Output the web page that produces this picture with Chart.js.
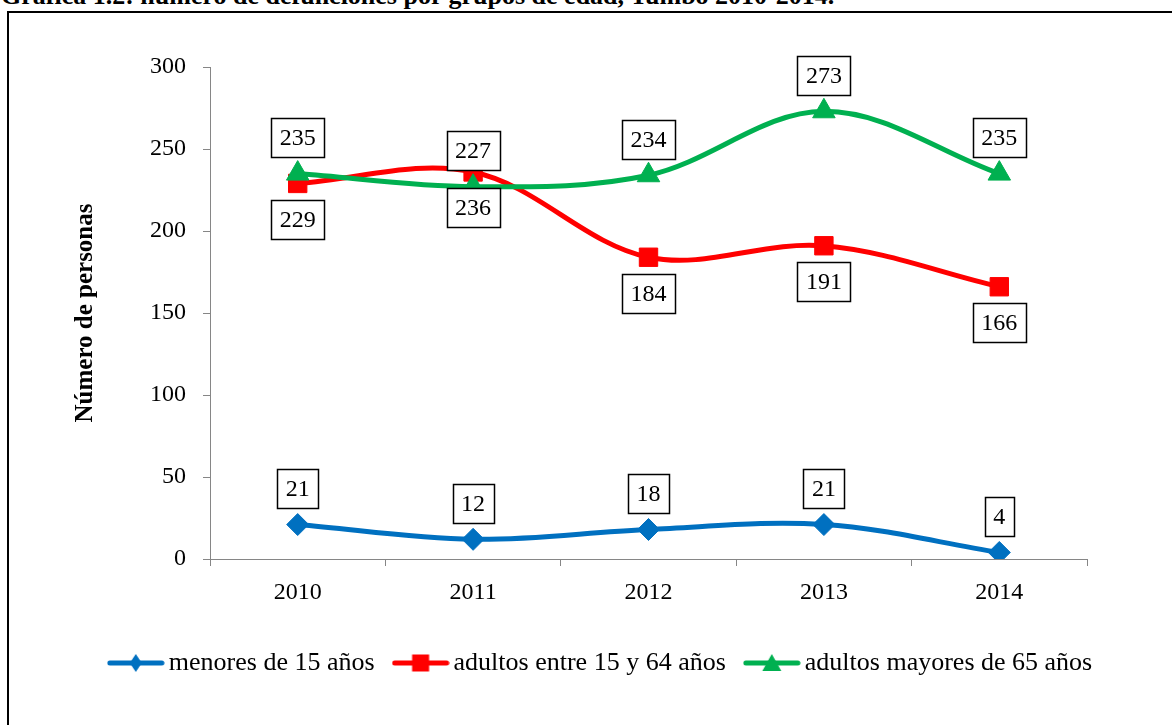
<!DOCTYPE html>
<html lang="es">
<head>
<meta charset="utf-8">
<title>Defunciones por grupos de edad</title>
<script src="https://cdn.jsdelivr.net/npm/chart.js@4.4.1/dist/chart.umd.min.js"></script>
<style>
  html, body { margin: 0; padding: 0; background: #fff; overflow: hidden; }
  body { width: 1172px; height: 725px; position: relative; }
  .titulo {
    position: absolute; left: 1px; top: -17px;
    font: bold 26px/26px "Liberation Serif", "Times New Roman", serif;
    color: #000; white-space: nowrap;
  }
  .marco {
    position: absolute; left: 7px; top: 11px; width: 1200px; height: 800px;
    border: 2px solid #000; box-sizing: border-box;
  }
  .grafico { position: absolute; left: 0; top: 0; width: 1172px; height: 725px; }
</style>
</head>
<body>
<div class="titulo">Gráfica 1.2: número de defunciones por grupos de edad, Tumbo 2010-2014.</div>
<div class="marco"></div>
<div class="grafico"><canvas id="lineChart"></canvas></div>

<script>
// Datos de la gráfica
const YEARS = ['2010', '2011', '2012', '2013', '2014'];
const MENORES_15 = [21, 12, 18, 21, 4];
const ADULTOS_15_64 = [229, 236, 184, 191, 166];
const MAYORES_65 = [235, 227, 234, 273, 235];
const Y_TICKS = [0, 50, 100, 150, 200, 250, 300];

const SERIE_NAMES = ['menores de 15 años', 'adultos entre 15 y 64 años', 'adultos mayores de 65 años'];
const COLORS = ['#0070C0', '#FF0000', '#00B050'];
const FONT = '"Liberation Serif", "Times New Roman", serif';

/**
 * Dibuja el icono de leyenda: línea con el marcador en el centro
 */
function legendIcon(color, shape) {
    const c = document.createElement('canvas');
    c.width = 58;
    c.height = 22;
    const g = c.getContext('2d');
    g.strokeStyle = color;
    g.fillStyle = color;
    g.lineWidth = 5;
    g.lineCap = 'round';
    g.beginPath();
    g.moveTo(3, 11);
    g.lineTo(55, 11);
    g.stroke();
    g.beginPath();
    if (shape === 'diamond') {
        g.moveTo(29, 2); g.lineTo(35, 11); g.lineTo(29, 20); g.lineTo(23, 11);
    } else if (shape === 'square') {
        g.rect(20.5, 2.5, 17, 17);
    } else {
        g.moveTo(29, 2); g.lineTo(38.5, 19); g.lineTo(19.5, 19);
    }
    g.closePath();
    g.fill();
    return c;
}

const ICONS = [
    legendIcon(COLORS[0], 'diamond'),
    legendIcon(COLORS[1], 'square'),
    legendIcon(COLORS[2], 'triangle')
];

// Etiquetas de datos en cajas con borde negro
const boxLabels = {
    id: 'boxLabels',
    afterDatasetsDraw(chart) {
        const ctx = chart.ctx;
        ctx.save();
        ctx.font = '24px ' + FONT;
        ctx.textAlign = 'center';
        ctx.textBaseline = 'middle';
        chart.data.datasets.forEach((ds, i) => {
            const meta = chart.getDatasetMeta(i);
            const dir = ds.labelSide === 'below' ? 1 : -1;
            meta.data.forEach((pt, j) => {
                const txt = String(ds.data[j]);
                const w = Math.round(ctx.measureText(txt).width + 17);
                const h = 39;
                const x = Math.round(pt.x - w / 2) + 0.5;
                const y = Math.round(pt.y + dir * 36 - h / 2) + 0.5;
                ctx.fillStyle = '#ffffff';
                ctx.fillRect(x, y, w, h);
                ctx.lineWidth = 1.5;
                ctx.strokeStyle = '#000000';
                ctx.strokeRect(x, y, w, h);
                ctx.fillStyle = '#000000';
                ctx.fillText(txt, pt.x, y + h / 2 + 1);
            });
        });
        ctx.restore();
    }
};

const ctx = document.getElementById('lineChart').getContext('2d');

new Chart(ctx, {
    type: 'line',
    data: {
        labels: YEARS,
        datasets: [
            { label: SERIE_NAMES[0], data: MENORES_15, borderColor: COLORS[0], backgroundColor: COLORS[0],
              pointStyle: 'rectRot', pointRadius: 11, labelSide: 'above', order: 2 },
            { label: SERIE_NAMES[1], data: ADULTOS_15_64, borderColor: COLORS[1], backgroundColor: COLORS[1],
              pointStyle: 'rect', pointRadius: 13, labelSide: 'below', order: 1 },
            { label: SERIE_NAMES[2], data: MAYORES_65, borderColor: COLORS[2], backgroundColor: COLORS[2],
              pointStyle: 'triangle', pointRadius: 13, labelSide: 'above', order: 0 }
        ]
    },
    options: {
        responsive: true,
        maintainAspectRatio: false,
        animation: false,
        layout: { padding: { top: 67, right: 0, bottom: 39, left: 36 } },
        elements: {
            line: { borderWidth: 5, tension: 0.35, fill: false },
            point: { borderWidth: 1, hoverRadius: 12 }
        },
        plugins: {
            tooltip: { enabled: false },
            legend: {
                position: 'bottom',
                labels: {
                    usePointStyle: true,
                    pointStyleWidth: 40,
                    padding: 26,
                    color: '#000',
                    font: { family: FONT, size: 26 },
                    generateLabels: chart => chart.data.datasets.map((ds, i) => ({
                        text: ds.label,
                        pointStyle: ICONS[i],
                        fillStyle: COLORS[i],
                        strokeStyle: 'transparent',
                        lineWidth: 0,
                        fontColor: '#000',
                        hidden: false,
                        datasetIndex: i
                    }))
                }
            }
        },
        scales: {
            x: {
                offset: true,
                afterFit: s => { s.height = 65; },
                grid: { offset: true, drawOnChartArea: false, drawTicks: true, tickLength: 7, color: '#868686' },
                border: { color: '#868686', width: 1 },
                ticks: { color: '#000', padding: 12, font: { family: FONT, size: 24 } }
            },
            y: {
                min: 0,
                max: 300,
                afterFit: s => { s.width = 174; },
                afterBuildTicks: s => { s.ticks = Y_TICKS.map(v => ({ value: v })); },
                grid: { drawOnChartArea: false, drawTicks: true, tickLength: 7, color: '#868686' },
                border: { color: '#868686', width: 1 },
                ticks: { color: '#000', padding: 17, font: { family: FONT, size: 24 } },
                title: {
                    display: true,
                    text: 'Número de personas',
                    color: '#000',
                    padding: { top: 35, bottom: 0 },
                    font: { family: FONT, size: 25, weight: 'bold' }
                }
            },
            // eje vacío a la derecha, solo reserva el margen
            yDer: {
                position: 'right',
                afterFit: s => { s.width = 85; },
                grid: { display: false },
                border: { display: false },
                ticks: { display: false }
            }
        }
    },
    plugins: [boxLabels]
});
</script>
</body>
</html>
